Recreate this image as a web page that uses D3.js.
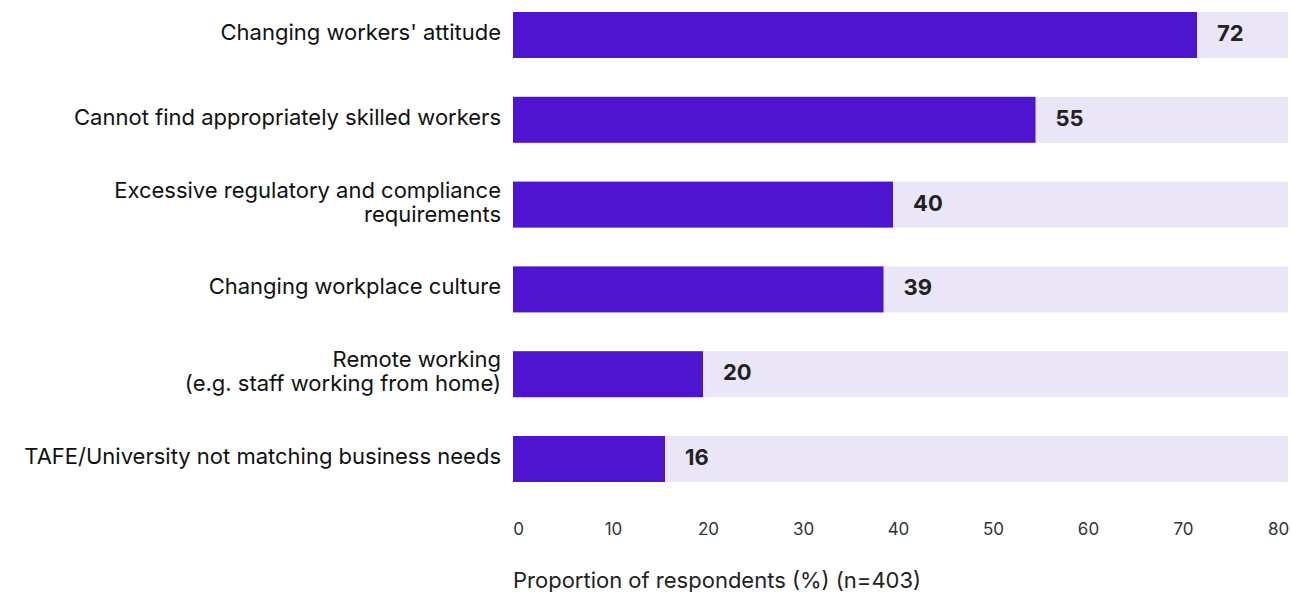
<!DOCTYPE html>
<html>
<head>
<meta charset="utf-8">
<script src="https://cdn.jsdelivr.net/npm/d3@7/dist/d3.min.js"></script>
<style>
  html, body { margin: 0; padding: 0; background: #ffffff; }
  svg { display: block; }
  text { font-family: "Inter", "Liberation Sans", sans-serif; }
</style>
</head>
<body>
<svg id="chart" width="1292" height="592"></svg>
<script>
// Barriers to workforce development, share of respondents
const categories = [
  ["Changing workers' attitude"],
  ["Cannot find appropriately skilled workers"],
  ["Excessive regulatory and compliance", "requirements"],
  ["Changing workplace culture"],
  ["Remote working", "(e.g. staff working from home)"],
  ["TAFE/University not matching business needs"]
];
const values = [72, 55, 40, 39, 20, 16];
const tickValues = [0, 10, 20, 30, 40, 50, 60, 70, 80];
const axisTitle = "Proportion of respondents (%) (n=403)";

const svg = d3.select("#chart");

const plotLeft = 513, plotRight = 1288;
const x = d3.scaleLinear().domain([0, 80]).range([plotLeft, plotLeft + 760]);

const keys = categories.map((c, i) => i);
const step = 84.8, barH = 46;
const pad = (step - barH) / step;
const y0 = 12 - step * pad / 2;
const y = d3.scaleBand().domain(keys).range([y0, y0 + step * keys.length])
  .paddingInner(pad).paddingOuter(pad / 2);

const rows = svg.append("g").selectAll("g").data(keys).join("g");

// track behind each bar
rows.append("rect")
  .attr("x", plotLeft)
  .attr("y", i => y(i))
  .attr("width", plotRight - plotLeft)
  .attr("height", y.bandwidth())
  .attr("fill", "#EAE6F8");

// value bars
rows.append("rect")
  .attr("x", x(0))
  .attr("y", i => y(i))
  .attr("width", i => x(values[i]) - x(0))
  .attr("height", y.bandwidth())
  .attr("fill", "#4F14D0");

// value labels
rows.append("text")
  .attr("x", i => x(values[i]) + 20)
  .attr("y", i => y(i) + y.bandwidth() / 2 - 2)
  .attr("dy", "0.36em")
  .attr("font-size", 22)
  .attr("font-weight", 700)
  .attr("fill", "#222222")
  .text(i => values[i]);

// category labels (right-aligned, possibly two lines)
const lineH = 24;
rows.append("text")
  .attr("text-anchor", "end")
  .attr("font-size", 22)
  .attr("fill", "#111111")
  .each(function(i) {
    const lines = categories[i];
    const cy = y(i) + y.bandwidth() / 2 - 3;
    const start = cy - (lines.length - 1) * lineH / 2;
    d3.select(this).selectAll("tspan").data(lines).join("tspan")
      .attr("x", 501)
      .attr("y", (d, k) => start + k * lineH)
      .attr("dy", "0.36em")
      .text(d => d);
  });

// x axis tick labels
const axis = d3.axisBottom(x).tickValues(tickValues).tickSize(0).tickPadding(0);
const gAxis = svg.append("g").attr("transform", "translate(5,523)").call(axis);
gAxis.select(".domain").remove();
gAxis.selectAll("text")
  .attr("font-size", 17)
  .attr("fill", "#333333")
  .attr("font-family", "Inter, 'Liberation Sans', sans-serif");

// axis title
svg.append("text")
  .attr("x", 513)
  .attr("y", 588)
  .attr("font-size", 22)
  .attr("fill", "#222222")
  .text(axisTitle);
</script>
</body>
</html>
